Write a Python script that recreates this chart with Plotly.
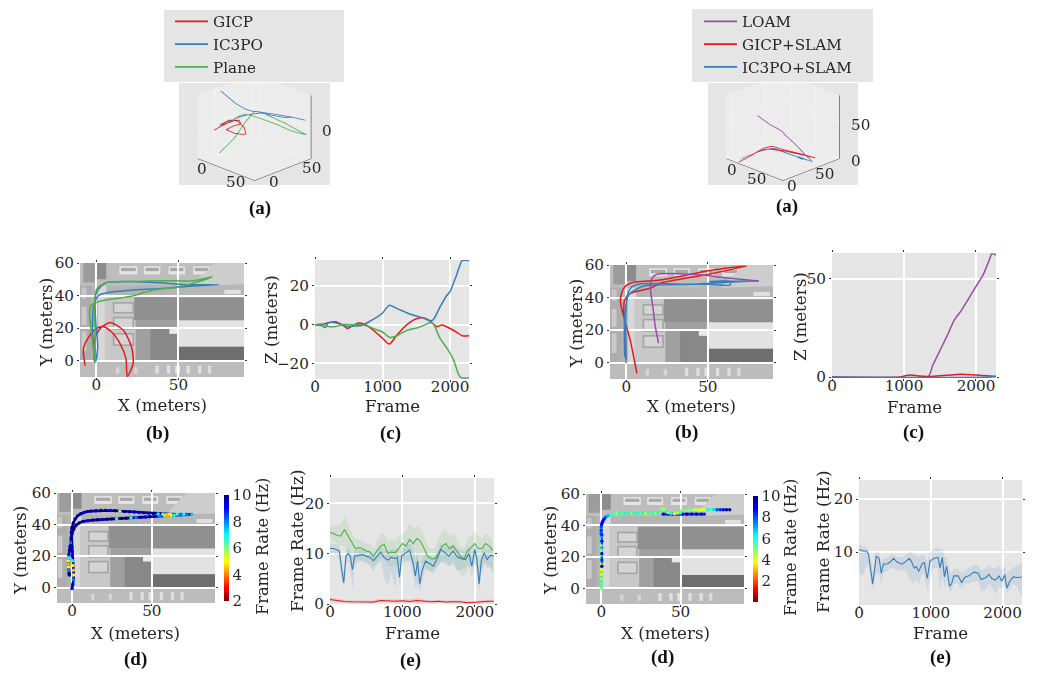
import plotly.graph_objects as go

W, H = 1045, 679
RED, BLUE, GREEN, PURPLE = "#E41A1C", "#377EB8", "#4DAF4A", "#984EA3"
SERIF = "DejaVu Serif"
TXT = "#262626"
PANEL = "#E5E5E5"

# ---- left column trajectories
gicp_x = [-6.9,-7.9,-4.9,-0.8,3.8,9.3,14.4,18,18.8,22.4,21.4,16.4,8.3,2.2,-1.4,-1.2]
gicp_y = [-3,7.5,14.2,19.3,21,17.6,10.5,1.4,-9.7,-1.6,8.5,18.7,23.5,19.7,12.6,-0.6]
gicp_z = [-5.7,-5,-3,-1,-0.2,-1,1,3.5,3,-2,-6,-10,-7,-1,1,0]
ic3po_x = [-0.4,0.8,-0.2,-0.8,-0.4,3.2,6.3,20.4,40.7,54.8,74.6,54.8,40.7,24.5,8.3,1.2,-1.8,-2.4,-1.8,-0.8]
ic3po_y = [-0.6,8.5,20.7,32.9,41,46,48,48.7,47.7,46.7,46.7,45.6,44.4,43.6,42,40,32.9,20.7,8.5,0.4]
ic3po_z = [0,0,1,0,-1,-0.8,-0.3,1,4,8,10,8.5,7,5,3,2.5,6,15,26,33]
plane_x = [-0.8,-1.8,-3.2,-4.2,-3.2,2.2,20.4,34.6,50.8,60.9,70.6,58.9,40.7,24.5,6.3,0.2,-1.2,-0.8,-0.8]
plane_y = [-1.6,6.5,18.7,28.8,33.9,36.5,39.4,43.4,45.4,48.1,51.5,49.1,49.1,48.7,48.1,44,32.9,18.7,-1.6]
plane_z = [0,0,-1,0,0,0,-1,-3,-5,-6,-6.5,-4,-2,-1,0.5,1,-7,-18,-27]

# ---- left column Z vs frame
zf_gicp = [0,100,200,300,400,480,560,650,750,850,1000,1100,1200,1300,1400,1500,1600,1700,1800,1880,2000,2100,2180,2280]
zv_gicp = [0,0,1,1.5,0,-2,-0.5,0.8,0,-2.5,-7,-10,-6,-2,1,3,3.5,2,-1,-0.2,-2,-4,-5.7,-5.7]
zf_ic3po = [0,100,150,200,300,400,480,560,700,800,900,1000,1100,1200,1300,1400,1500,1600,1700,1750,1850,1950,2000,2100,2180,2280]
zv_ic3po = [0,-0.5,-1.5,1,1,0,-1,-0.8,-0.3,1.5,3.5,6,10,8.5,7,5.5,4.5,3.5,2,2.5,9,15,17,26,33,33]
zf_plane = [0,100,200,300,400,500,600,700,800,900,1000,1100,1200,1300,1400,1500,1600,1700,1750,1850,1950,2050,2150,2280]
zv_plane = [0,0.3,-1,-1,0,0,0,0,-1,-2.5,-3.8,-6.5,-6,-4,-2.5,-1.8,-0.5,1,0.5,-7,-12,-18,-27,-27.5]

# ---- right column trajectories
gs_x = [6.5,2.4,-1.6,-3.7,-1.6,2.4,20.8,51.4,73.9,51.4,20.8,14.7,2.4,-1,-1.6,-0.6,-0.2]
gs_y = [-6.6,13.9,28.3,38.5,45.7,48.8,50.8,56.6,59.4,54.5,48.8,45.7,42.6,38.5,32.4,20.1,1.6]
gs_z = [0.3,0.5,0.7,1,1.2,1.4,1,0.7,0.5,1,0.7,0.5,0.3,0.2,0,0,0]
is_x = [-0.2,-0.2,0.4,3.5,8.6,37.1,51.4,63.7,63.7,51.4,81,61.6,41.2,10.6,1.4,-1,-1]
is_y = [-0.4,28.3,40.6,46.7,48.4,48.2,48.2,47.7,49.8,49.8,50.2,49.4,48.2,47.1,41.6,28.3,3.7]
is_z = [0]*17
loam_x = [19.8,17.8,16.3,14.7,15.7,18.8,41.2,63.7,81]
loam_y = [11.9,22.1,34.4,46.7,51.8,54.3,54.3,51.8,50.2]
loam_z = [62,52,40,30,25,20,12,5,0]

# ---- right column Z vs frame
zf_loam = [0,1330,1400,1500,1600,1700,1800,1900,2000,2100,2180,2220,2280]
zv_loam = [0,0,6,13.5,21,29,34,40,46,52,59,62.5,62]
zf_gs = [0,950,1000,1100,1200,1350,1500,1700,1800,2000,2150,2280]
zv_gs = [0,0,0.5,1,0.5,0.3,0.7,1.2,1.4,1,0.7,0.3]
zf_is = [0,2200,2280]
zv_is = [0,0,0.4]

# ---- frame-rate coloured trajectories
d1_x = [0,0.5,1,1.1,0.9,0.6,0.4,0.2,0,-0.2,-0.4,-0.5,-0.4,0,0.8,2,3.5,5.5,7.5,9.5,12,15,18,21,24,27,30,33,36,39,42,45,48,51,54,57,59,60,61,62,64,66,68,70,72,75,
        72,68,64,62,60,58,55,52,49,46,43,40,37,34,31,28,25,22,19,16,13,10,7,4.5,2.5,1,0,-0.5,-1,-1.3,-1.6,-1.9,-2.1,-2.3,-2.3,-2.2,-2,-1.8,-1.7]
d1_y = [-0.6,2,5,8,11,14,17,20,23,26,29,32,35,38,41,43.5,45.5,46.8,47.6,48.2,48.5,48.7,48.9,49,48.9,48.7,48.5,48.3,48.1,47.9,47.6,47.4,47.1,46.9,46.7,46.5,46.4,46.4,46.4,46.4,46.5,46.5,46.5,46.5,46.5,46.5,
        46.2,46,45.8,45.7,45.6,45.5,45.3,45.1,45,44.8,44.6,44.4,44.2,44,43.9,43.7,43.6,43.4,43.2,43,42.8,42.4,42,41,39.5,37,34,31,28.5,26,23.5,21,19,17,15,13,11,9,8]
d1_r = [9.5,9.8,8,5,4.5,5,7,9,9.5,10,10,9.5,10,10,10,9.5,10,10,9,10,10,9.5,10,10,9,10,5.5,10,10,9.5,9,10,9,10,7,6,4.5,4.2,5,6,8,6.5,8,7,8,7.5,
        8,8,7,5,4.5,6,8,9,10,9,10,8,6.5,10,10,6.5,10,10,9.5,10,10,9,10,10,10,10,9.5,10,8,9,10,9,7,5,4.3,5,8,10,10]
d2_x = [0]*15 + [0.2,0.5,1,1.7,2.7,4,6,8,10,13,16,19,22,25,28,31,34,37,38,39,40,42,44,46,48,50,51,53,55,57,59,61,63,65,67,69,71,73,75,77,79,81]
d2_y = [0,3,6,9,12,15,18,21,24,27,30,33,35,37,39,40.5,41.5,42.7,44,45.2,46,46.8,47.3,47.6,47.8,47.9,47.9,47.8,47.8,47.7,47.7,47.8,48,50.3,50.5,50.3,48,47.7,47.5,47.8,48,49.5,49.7,49.7,49.8,49.9,50,50,50.2,50,49.9,50,50,50,50,50,50]
d2_r = [5,5.5,4.5,4,3.8,4,5,5.5,4.5,4,6,7,8,8.5,8,8.5,9,9,9,8,7,6,5.5,5,5.5,6,5,6,5.5,4.5,5.5,5,5.5,5,4.5,5,5,6,4,4.5,5.5,5,5,5,5,4,4,3.8,4,6,5.5,6.5,8,8.5,9,9.5,9.5]
d2b_x = [39,42,45,48,51,54,57,60,63,65]
d2b_y = [47.2,47.2,47.2,47.2,47.2,47.2,47.2,47.2,47.2,47.2]
d2b_r = [9,9.5,9,8.5,9,9.5,9,9.5,9,8.5]
d2c_x = [0.4,0.4,0.4,0.4,0.4,0.4]
d2c_y = [14,18,22,26,30,34]
d2c_r = [9,8.5,9,7,9,8.5]

# ---- frame rate vs frame, left
fr_green_f = list(range(0,2300,50))
fr_green = [14.2,14,13.6,13.5,14.8,13.5,12,11,11.2,11,10.5,10.3,9.5,10.5,11.5,11.8,10,10.3,10.2,11,12,11.5,12.8,12,13,12.5,11,9.5,9,9,10,11.5,12,11,11.5,10.5,9.5,9,10.5,11.2,12,11,11,12,11.5,10.7]
fr_green_hi = [15.5,15.5,15.5,15.8,17.5,16,14,13,12.8,12.5,12,12,11,12.5,14,14,12.5,13,12.5,13.5,14,14.5,16,15,15.5,15,13.5,11.5,11,11,13,14.5,15,13.5,14,13,11.5,11,13,13.5,14.5,13.5,13,14,13.5,12.5]
fr_green_lo = [13,12.5,12,11.5,11.5,10,9,8.5,9,8.5,8.5,8,7.5,8,9,9,7.5,7.5,7.5,7.5,9,8.5,9,8,8,8,8,6.5,6.5,7,7.5,8.5,8.5,7.5,8.5,7,6,5.5,7,7.5,8,7,7,8,7.5,6]
fr_blue_f = [0,50,100,130,160,190,220,250,280,310,340,400,450,500,550,600,650,700,750,800,850,900,930,960,990,1050,1100,1150,1180,1210,1240,1270,1320,1380,1430,1480,1530,1580,1640,1700,1760,1820,1870,1920,1960,2000,2030,2060,2090,2130,2170,2220,2260]
fr_blue = [11,11,10.7,10.5,7,4.2,9.5,10,9.5,6.8,9.5,9.7,9.8,9.5,9.3,8.6,9.5,10.3,9.2,8.7,9.3,9,9.3,5.3,9.5,10.2,10.7,8,5.5,8.5,4,6.5,8.5,8,7.5,9,10.8,10.3,9.5,10.5,9.3,9,8.8,10,7.5,10.8,8.8,4,8.5,10.2,8.8,9.7,9.5]
fr_blue_lo = [10,10,9.5,8.5,5,3.2,7.5,8.5,7.5,2.8,7.5,8.5,8.5,8,7.5,6.5,8,8.5,5,3.5,6.5,3,7,3.5,7.5,8.5,8.5,6,3,4,2.5,4,7,6.5,6,7.5,8.5,8,7.5,8,6.5,7,7,8,5,8,6,2.7,6,8.5,7,7.5,6]
fr_blue_hi = [12,12,11.8,11.5,9,6,10.8,11,10.8,9,10.8,10.8,11,10.8,10.5,10,10.8,11.5,10.8,10.5,10.8,10.8,11,9.5,11,11.5,12,11,8.5,10.5,7,9,10,9.5,9,10.5,12,11.5,11,12,11,10.5,10.5,11.5,10,12,10.5,7,10.5,11.5,10.5,11,11]
fr_red_f = [0,100,200,300,400,500,600,700,800,900,1000,1100,1200,1300,1400,1500,1600,1700,1800,1900,2000,2100,2200,2260]
fr_red = [0.9,0.7,0.5,0.45,0.4,0.45,0.4,0.7,0.65,0.55,0.65,0.5,0.7,0.6,0.45,0.55,0.4,0.45,0.45,0.25,0.3,0.45,0.55,0.55]
fr_red_hi = [1.3,1,0.8,0.7,0.7,0.7,0.7,1,0.9,0.9,1,0.9,1.2,0.9,0.8,0.8,0.7,0.7,0.7,0.6,0.6,0.8,0.9,0.9]
fr_red_lo = [0.6,0.4,0.2,0.2,0.15,0.2,0.15,0.4,0.4,0.3,0.3,0.25,0.3,0.3,0.2,0.25,0.15,0.2,0.2,0.05,0.05,0.15,0.2,0.2]

# ---- frame rate vs frame, right
fr2_f = [0,50,100,130,170,190,220,240,280,310,340,400,450,480,530,600,650,700,730,770,800,830,880,910,950,990,1040,1100,1130,1160,1190,1220,1260,1290,1320,1380,1430,1470,1530,1600,1660,1700,1770,1810,1850,1900,1950,1990,2030,2060,2100,2150,2200,2270]
fr2 = [10.5,10.2,10.2,9.7,6,4,7,9.2,8.8,6,7.7,7.8,8.3,8.8,8.1,7.7,8.2,8.8,8.2,7,7.2,6.3,7.8,8,5,8.3,8.8,9,7,9,5.3,7.3,3.5,4,5.5,5.5,4.2,5.2,5.5,6.2,6,4.8,5.2,5.8,5,4.7,5.5,4.5,5.7,3.2,4.5,5.3,5.2,5.3]
fr2_lo = [6,5.5,7,8,4,3,5,6,6,4,6,6.5,7,7,6.5,6.5,6.5,5,4.5,4,5,3.5,6,5.5,2.5,5,7,7,2.5,6,3,5,2.5,2.8,4,4,3,4,4,4.5,4.5,2.5,3,4,3.5,2,3.5,3,4,2.2,3,4,3.5,1.5]
fr2_hi = [11.5,11,11,10.5,8.5,6,9.5,10,9.8,8,8.8,9,9.5,9.5,9,9,9.5,10,10,9.5,9.5,9,9.5,9.5,8,10,10.5,11,10.5,11,9,9,6.5,6,6.8,6.8,6,6.5,7,7.5,7.5,6.5,7,7.5,7,7,7.5,6.5,7.5,6,6.5,7,7.5,8]

# ---- aerial photo, approximated by tone blocks (x0, y0, x1, y1, grey)
photo_blocks = [
    (-10,-10,90,60,"#B4B4B4"),
    (-10,46,90,60,"#BDBDBD"),
    (-10,-10,90,-1,"#BCBCBC"),
    (-10,-1,-3,46,"#ADADAD"),
    (-9,22,-6,33,"#CACACA"),(-9,6,-6,18,"#CACACA"),(-9,38,-6,45,"#C6C6C6"),
    (-8,48,-1,60,"#9C9C9C"),(-1,50,6,60,"#8C8C8C"),
    (1,0,6,46,"#D8D8D8"),(5,0,24,40,"#C8C8C8"),
    (24,0,50,39,"#A0A0A0"),(33,0,50,20,"#888888"),
    (23,25,90,39,"#909090"),(45,39,90,47,"#B6B6B6"),
    (10,29,23,36,"#A4A4A4"),(11,30,22,35,"#D4D4D4"),
    (10,19,23,27,"#A4A4A4"),(11,20,22,26,"#D4D4D4"),
    (10,9,23,17,"#A4A4A4"),(11,10,22,16,"#D4D4D4"),
    (78,41,88,43.5,"#E0E0E0"),
    (50,8.5,90,24.7,"#E2E2E2"),(44.5,16.5,50,20.3,"#EAEAEA"),
    (50,0,90,8.5,"#6E6E6E"),
    (14,53,25,58,"#E4E4E4"),(15,55,24,57,"#A8A8A8"),
    (29,53,39,58,"#E4E4E4"),(30,55,38,57,"#A8A8A8"),
    (44,53,54,58,"#E4E4E4"),(45,55,53,57,"#A8A8A8"),
    (59,53,69,58,"#E4E4E4"),(60,55,68,57,"#A8A8A8"),
    (75,51,90,60,"#D0D0D0"),
    (36,-8,38,-3,"#E0E0E0"),(43,-8,45,-3,"#E0E0E0"),(48,-8,51,-3,"#E4E4E4"),
    (55,-8,57,-3,"#E0E0E0"),(62,-8,64,-3,"#E0E0E0"),(68,-8,70,-3,"#DCDCDC"),
    (12,-8,14,-4,"#D6D6D6"),(23,-8,25,-4,"#D6D6D6"),
]

captions = [("(a)",260,208),("(a)",787,206),("(b)",157,433),("(c)",390,433),("(b)",686,432),("(c)",913,432),
            ("(d)",135,659),("(e)",410,660),("(d)",662,657),("(e)",940,657)]
# text, centre x, centre y, angle, size
titles = [("X (meters)",162,405,0,16.7),("Y (meters)",46,323,-90,16.7),("Frame",392,406,0,16.7),("Z (meters)",271,320,-90,16.7),
          ("X (meters)",691,406,0,16.7),("Y (meters)",576,324,-90,16.7),("Frame",914,407,0,16.7),("Z (meters)",800,317,-90,16.7),
          ("X (meters)",135,633,0,16.7),("Y (meters)",20,551,-90,16.7),("Frame Rate (Hz)",262,547,-90,16.2),
          ("Frame",412,633,0,16.7),("Frame Rate (Hz)",297,541,-90,16.8),
          ("X (meters)",665,633,0,16.7),("Y (meters)",550,551,-90,16.7),("Frame Rate (Hz)",790,548,-90,16.2),
          ("Frame",940,633,0,16.7),("Frame Rate (Hz)",823,542,-90,16.8)]

X_TICKS_MAP = [0,50]
Y_TICKS_MAP = [0,20,40,60]
FRAME_TICKS = [0,1000,2000]
JET_R = [[0,"#7f0000"],[0.125,"#ff0000"],[0.375,"#ffff00"],[0.5,"#7fff7f"],[0.625,"#00ffff"],[0.875,"#0000ff"],[1,"#00007f"]]

fig = go.Figure()
layout = dict(width=W, height=H, margin=dict(l=0,r=0,t=0,b=0,pad=0), autosize=False,
              paper_bgcolor="white", plot_bgcolor=PANEL, font=dict(family=SERIF,size=15,color=TXT))
shapes, annotations = [], []

def dom(x0, y0, x1, y1):
    return [x0/W, x1/W], [1-y1/H, 1-y0/H]

def axes(n, box, xr, yr, xt, yt):
    dx, dy = dom(*box)
    sfx = "" if n == 1 else str(n)
    common = dict(showgrid=True, gridcolor="white", gridwidth=1.5, zeroline=False, showline=False,
                  ticks="outside", ticklen=2, tickwidth=1, tickcolor="#333333", mirror="ticks",
                  tickfont=dict(family=SERIF,size=15.2,color=TXT), automargin=False)
    layout["xaxis"+sfx] = dict(common, domain=dx, range=xr, tickvals=xt, anchor="y"+sfx, ticklabelstandoff=-8)
    layout["yaxis"+sfx] = dict(common, domain=dy, range=yr, tickvals=yt, anchor="x"+sfx)
    return "x"+sfx, "y"+sfx

def photo(xa, ya):
    for x0,y0,x1,y1,c in photo_blocks:
        shapes.append(dict(type="rect", xref=xa, yref=ya, x0=x0, y0=y0, x1=x1, y1=y1, fillcolor=c,
                           line=dict(width=0), layer="below"))
    shapes.append(dict(type="path", xref=xa, yref=ya, layer="below", fillcolor="#CDCDCD", line=dict(width=0),
                       path="M 58 46 L 72 60 L 90 60 L 90 47 Z"))

def line(xa, ya, x, y, c, w=1.5, smooth=True):
    fig.add_trace(go.Scatter(x=x, y=y, mode="lines", xaxis=xa, yaxis=ya, showlegend=False,
                             line=dict(color=c, width=w, shape="spline" if smooth else "linear", smoothing=0.7)))

def band(xa, ya, f, lo, hi, c):
    fig.add_trace(go.Scatter(x=f+f[::-1], y=hi+lo[::-1], mode="lines", fill="toself", fillcolor=c,
                             line=dict(width=0), xaxis=xa, yaxis=ya, showlegend=False, hoverinfo="skip"))

def scene(key, box, xr, yr, zr, zt, legend_name, series):
    dx, dy = dom(*box)
    ax = dict(showbackground=True, backgroundcolor="#ECECEC", gridcolor="#F3F3F3", showline=True,
              linecolor="#444444", linewidth=1, ticks="", title=dict(text=""), showticklabels=False,
              zeroline=False, showspikes=False)
    f = dict(family=SERIF,size=15.2,color=TXT)
    labels = [dict(x=xr[1],y=yr[1],z=v,text=str(v),showarrow=False,xshift=16 if v==0 else 21,yshift=-2,font=f) for v in zt]
    labels += [dict(x=v,y=yr[0],z=zr[0],text=str(v),showarrow=False,xshift=-2,yshift=-8,font=f) for v in [0,50]]
    labels += [dict(x=xr[1],y=v,z=zr[0],text=str(v),showarrow=False,xshift=3,yshift=-8,font=f) for v in [0,50]]
    layout[key] = dict(domain=dict(x=dx,y=dy), bgcolor=PANEL,
        xaxis=dict(ax, range=xr, tickvals=[0,50]),
        yaxis=dict(ax, range=yr, tickvals=[0,50]),
        zaxis=dict(ax, range=zr, tickvals=zt, showline=False),
        aspectmode="manual", aspectratio=dict(x=1.57,y=1.57,z=1.35),
        annotations=labels,
        camera=dict(projection=dict(type="orthographic"), eye=dict(x=1.3,y=-1.3,z=0.62), up=dict(x=0,y=0,z=1), center=dict(x=0,y=0,z=-0.15)))
    for name,x,y,z,c in series:
        fig.add_trace(go.Scatter3d(x=x,y=y,z=z,mode="lines",name=name,scene=key,legend=legend_name,
                                   line=dict(color=c,width=1.6)))
    fig.add_trace(go.Scatter3d(x=[xr[1],xr[1]],y=[yr[1],yr[1]],z=zr,mode="lines",scene=key,showlegend=False,
                               line=dict(color="#444444",width=1.2),hoverinfo="skip"))

# 3D panels + legends
scene("scene",(179,83,330,185),[-10,76],[-22,53],[-29,33],[0],"legend",
      [("GICP",gicp_x,gicp_y,gicp_z,RED),("IC3PO",ic3po_x,ic3po_y,ic3po_z,BLUE),("Plane",plane_x,plane_y,plane_z,GREEN)])
scene("scene2",(708,83,858,185),[-16,100],[-8.5,77],[0,88],[0,50],"legend2",
      [("LOAM",loam_x,loam_y,loam_z,PURPLE),("GICP+SLAM",gs_x,gs_y,gs_z,RED),("IC3PO+SLAM",is_x,is_y,is_z,BLUE)])
for box in [(164,10,344,82),(692,9,873,82)]:
    shapes.append(dict(type="rect",xref="paper",yref="paper",x0=box[0]/W,x1=box[2]/W,y0=1-box[3]/H,y1=1-box[1]/H,
                       fillcolor=PANEL,line=dict(width=0),layer="below"))
lg = dict(bgcolor="rgba(0,0,0,0)", borderwidth=0, xanchor="left", yanchor="top", itemwidth=33,
          font=dict(family=SERIF,size=15.2,color=TXT), traceorder="normal")
layout["legend"] = dict(lg, x=170/W, y=1-5/H)
layout["legend2"] = dict(lg, x=699/W, y=1-5/H)

# (b) trajectories
xa,ya = axes(1,(80,263,244,377),[-10,90],[-10,60],X_TICKS_MAP,Y_TICKS_MAP)
photo(xa,ya)
line(xa,ya,gicp_x,gicp_y,RED); line(xa,ya,ic3po_x,ic3po_y,BLUE); line(xa,ya,plane_x,plane_y,GREEN)
xa,ya = axes(2,(610,265,773,379),[-10,90],[-10,60],X_TICKS_MAP,Y_TICKS_MAP)
photo(xa,ya)
line(xa,ya,gs_x,gs_y,RED); line(xa,ya,is_x,is_y,BLUE); line(xa,ya,loam_x,loam_y,PURPLE)

# (c) Z
xa,ya = axes(3,(315,260,469,379),[0,2280],[-28,33.3],FRAME_TICKS,[-20,0,20])
line(xa,ya,zf_gicp,zv_gicp,RED); line(xa,ya,zf_ic3po,zv_ic3po,BLUE); line(xa,ya,zf_plane,zv_plane,GREEN)
xa,ya = axes(4,(832,253,996,378),[0,2278],[-0.5,63],FRAME_TICKS,[0,50])
line(xa,ya,zf_loam,zv_loam,PURPLE); line(xa,ya,zf_gs,zv_gs,RED); line(xa,ya,zf_is,zv_is,BLUE)

def rate_markers(xa, ya, x, y, r, cmin, cmax, cb=None):
    marker = dict(color=r,size=3.4,cmin=cmin,cmax=cmax,colorscale=JET_R,line=dict(width=0),showscale=cb is not None)
    if cb:
        marker["colorbar"] = dict(x=cb[0]/W,xanchor="left",xpad=0,ypad=0,y=1-cb[1]/H,yanchor="top",lenmode="pixels",len=cb[2]-cb[1],
                thickness=4.5,outlinewidth=0,tickvals=[2,4,6,8,10],ticks="",ticklen=0,
                tickfont=dict(family=SERIF,size=15,color=TXT))
    fig.add_trace(go.Scatter(x=x,y=y,mode="markers",xaxis=xa,yaxis=ya,showlegend=False,marker=marker))

# (d) coloured
xa,ya = axes(5,(57,493,215,603),[-9.4,89.6],[-9.8,60],X_TICKS_MAP,Y_TICKS_MAP)
photo(xa,ya)
line(xa,ya,d1_x,d1_y,"#00009A",2.6,False)
rate_markers(xa,ya,d1_x,d1_y,d1_r,2,10,(224,495,601))
xa,ya = axes(6,(586,494,744,604),[-9.6,90],[-10,60],X_TICKS_MAP,Y_TICKS_MAP)
photo(xa,ya)
line(xa,ya,d2b_x,d2b_y,"#0030E0",2.6,False)
line(xa,ya,d2_x,d2_y,"#50E0A0",2.6,False)
line(xa,ya,d2c_x,d2c_y,"#0030E0",1.8,False)
rate_markers(xa,ya,d2b_x,d2b_y,d2b_r,0,10)
rate_markers(xa,ya,d2_x,d2_y,d2_r,0,10,(753,496,602))
rate_markers(xa,ya,d2c_x,d2c_y,d2c_r,0,10)

# (e) frame rate
xa,ya = axes(7,(330,478,494,604),[0,2266],[0,25],FRAME_TICKS,[0,10,20])
band(xa,ya,fr_green_f,fr_green_lo,fr_green_hi,"rgba(77,175,74,0.13)")
band(xa,ya,fr_blue_f,fr_blue_lo,fr_blue_hi,"rgba(55,126,184,0.13)")
band(xa,ya,fr_red_f,fr_red_lo,fr_red_hi,"rgba(228,26,28,0.13)")
line(xa,ya,fr_green_f,fr_green,GREEN,1.1,False); line(xa,ya,fr_blue_f,fr_blue,BLUE,1.1,False); line(xa,ya,fr_red_f,fr_red,RED,1.1,False)
xa,ya = axes(8,(859,480,1022,605),[0,2270],[0,23.6],FRAME_TICKS,[10,20])
band(xa,ya,fr2_f,fr2_lo,fr2_hi,"rgba(55,126,184,0.13)")
line(xa,ya,fr2_f,fr2,BLUE,1.1,False)

for t,x,y in captions:
    annotations.append(dict(text="<b>%s</b>"%t,x=x/W,y=1-y/H,xref="paper",yref="paper",showarrow=False,
                            xanchor="center",yanchor="middle",font=dict(family="Liberation Serif",size=19,color="#111111")))
for t,x,y,a,s in titles:
    annotations.append(dict(text=t,x=x/W,y=1-y/H,xref="paper",yref="paper",showarrow=False,textangle=a,
                            xanchor="center",yanchor="middle",font=dict(family=SERIF,size=s,color=TXT)))

layout["shapes"]=shapes
layout["annotations"]=annotations
fig.update_layout(**layout)
fig.write_html("out.html", config=dict(displayModeBar=False),
               post_script="document.body.style.margin='0';document.body.style.overflow='hidden';")
